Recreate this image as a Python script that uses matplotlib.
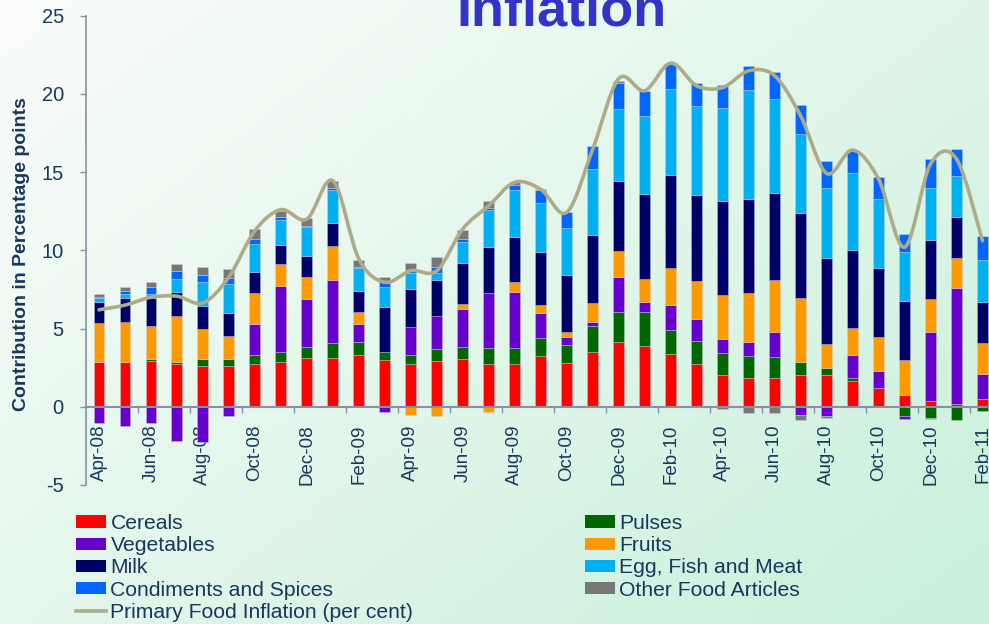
import numpy as np
import matplotlib
matplotlib.use("Agg")
import matplotlib.pyplot as plt
from matplotlib.path import Path
from matplotlib.patches import PathPatch, Patch
from matplotlib.lines import Line2D

plt.rcParams['font.family'] = ['Liberation Sans', 'DejaVu Sans']
plt.rcParams['axes.unicode_minus'] = False

months = ["Apr-08", "May-08", "Jun-08", "Jul-08", "Aug-08", "Sep-08", "Oct-08", "Nov-08",
          "Dec-08", "Jan-09", "Feb-09", "Mar-09", "Apr-09", "May-09", "Jun-09", "Jul-09",
          "Aug-09", "Sep-09", "Oct-09", "Nov-09", "Dec-09", "Jan-10", "Feb-10", "Mar-10",
          "Apr-10", "May-10", "Jun-10", "Jul-10", "Aug-10", "Sep-10", "Oct-10", "Nov-10",
          "Dec-10", "Jan-11", "Feb-11"]

cereals = [2.89, 2.89, 2.94, 2.72, 2.60, 2.60, 2.72, 2.85, 3.11, 3.15, 3.30, 3.02, 2.72, 2.92,
           3.07, 2.75, 2.75, 3.23, 2.81, 3.49, 4.13, 3.90, 3.36, 2.75, 2.06, 1.81, 1.87, 2.00,
           2.00, 1.62, 1.19, 0.77, 0.40, 0.19, 0.49]
pulses = [0.00, 0.00, 0.13, 0.17, 0.47, 0.47, 0.56, 0.64, 0.74, 0.92, 0.87, 0.47, 0.60, 0.78,
          0.78, 1.00, 1.00, 1.15, 1.17, 1.66, 1.92, 2.19, 1.58, 1.45, 1.41, 1.45, 1.34, 0.85,
          0.49, 0.21, 0.00, -0.62, -0.72, -0.83, -0.30]
vegetables = [-1.04, -1.24, -1.04, -2.19, -2.26, -0.62, 1.98, 4.22, 3.05, 4.06, 1.13, -0.34,
              1.77, 2.09, 2.41, 3.53, 3.57, 1.62, 0.51, 0.30, 2.27, 0.63, 1.57, 1.38, 0.89,
              0.87, 1.58, -0.51, -0.62, 1.49, 1.11, -0.15, 4.37, 7.41, 1.62]
fruits = [2.47, 2.52, 2.10, 2.94, 1.91, 1.44, 2.00, 1.42, 1.38, 2.13, 0.79, 0.00, -0.51, -0.60,
          0.32, -0.34, 0.64, 0.51, 0.28, 1.17, 1.62, 1.45, 2.35, 2.45, 2.81, 3.13, 3.34, 4.11,
          1.53, 1.70, 2.19, 2.23, 2.13, 1.89, 1.96]
milk = [1.33, 1.53, 1.77, 1.53, 1.49, 1.49, 1.38, 1.23, 1.38, 1.49, 1.34, 2.92, 2.45, 2.34,
        2.60, 2.92, 2.90, 3.39, 3.68, 4.36, 4.47, 5.43, 5.97, 5.53, 5.96, 6.02, 5.53, 5.41,
        5.49, 5.01, 4.39, 3.75, 3.78, 2.66, 2.66]
egg_fish_meat = [0.27, 0.28, 0.28, 0.81, 1.49, 1.85, 1.77, 1.60, 1.84, 2.11, 1.45, 1.27, 1.02,
                 0.43, 1.38, 2.38, 3.00, 3.13, 2.98, 4.22, 4.62, 4.96, 5.47, 5.64, 5.94, 6.96,
                 6.03, 5.06, 4.47, 4.89, 4.40, 3.17, 3.30, 2.62, 2.66]
condiments = [0.08, 0.21, 0.42, 0.54, 0.49, 0.39, 0.32, 0.15, 0.08, 0.12, 0.04, 0.39, 0.21, 0.36,
              0.17, 0.11, 0.32, 0.83, 1.00, 1.49, 1.67, 1.60, 1.60, 1.49, 1.49, 1.56, 1.68, 1.85,
              1.73, 1.49, 1.43, 1.13, 1.86, 1.70, 1.51]
other_food = [0.18, 0.25, 0.34, 0.40, 0.49, 0.57, 0.64, 0.43, 0.47, 0.43, 0.47, 0.25, 0.43, 0.64,
              0.57, 0.44, 0.17, 0.06, 0.00, 0.00, 0.10, 0.00, 0.00, 0.00, -0.15, -0.38, -0.38,
              -0.32, -0.10, 0.00, 0.00, 0.00, -0.08, 0.00, 0.00]
primary_food_inflation = [6.2, 6.5, 7.0, 7.07, 6.64, 8.3, 11.26, 12.6, 12.0, 14.45, 9.45, 7.96,
                          8.7, 8.7, 11.37, 12.86, 14.35, 13.9, 12.43, 16.47, 20.98, 20.2, 21.97,
                          20.52, 20.41, 21.48, 21.16, 18.6, 14.92, 16.41, 14.56, 10.2, 15.52,
                          15.84, 10.62]

series_names = ["Cereals", "Pulses", "Vegetables", "Fruits", "Milk", "Egg, Fish and Meat",
                "Condiments and Spices", "Other Food Articles"]
series_values = [cereals, pulses, vegetables, fruits, milk, egg_fish_meat, condiments, other_food]
series_colors = ["#FF0000", "#006600", "#6600CC", "#FF9900", "#000066", "#00B0F0",
                 "#0066FF", "#777777"]
line_name = "Primary Food Inflation (per cent)"
line_color = "#AEAB88"
text_color = "#17375E"
axis_color = "#8C8FA3"

W, H = 989, 624
fig = plt.figure(figsize=(W / 100, H / 100), dpi=100)

# background gradient
bg = fig.add_axes([0, 0, 1, 1], zorder=-10)
gx, gy = np.meshgrid(np.linspace(0, 1, 200), np.linspace(0, 1, 130))
t = (gx * 0.55 + gy * 0.45)
c0 = np.array([251, 253, 251]) / 255.0
c1 = np.array([200, 240, 218]) / 255.0
img = c0[None, None, :] * (1 - t[..., None]) + c1[None, None, :] * t[..., None]
bg.imshow(img, extent=[0, 1, 0, 1], aspect='auto', origin='upper')
bg.set_axis_off()

left = 86 / W
right_px = 995.5
top = 1 - 15.7 / H
bottom = 1 - 485 / H
ax = fig.add_axes([left, bottom, right_px / W - left, top - bottom])
ax.set_facecolor('none')

x = np.arange(len(months))
pos_base = np.zeros(len(months))
neg_base = np.zeros(len(months))
for vals, col in zip(series_values, series_colors):
    v = np.array(vals, dtype=float)
    b = np.where(v >= 0, pos_base, neg_base)
    ax.bar(x, v, width=0.42, bottom=b, color=col, edgecolor=(0.85, 0.85, 0.9, 0.6),
           linewidth=0.4, zorder=2)
    pos_base = pos_base + np.where(v > 0, v, 0)
    neg_base = neg_base + np.where(v < 0, v, 0)

# smoothed line (cubic Bezier, Excel-style smoothing)
py = np.array(primary_food_inflation, dtype=float)
verts = [(x[0], py[0])]
codes = [Path.MOVETO]
n = len(py)
for i in range(n - 1):
    p0 = np.array([x[max(i - 1, 0)], py[max(i - 1, 0)]])
    p1 = np.array([x[i], py[i]])
    p2 = np.array([x[i + 1], py[i + 1]])
    p3 = np.array([x[min(i + 2, n - 1)], py[min(i + 2, n - 1)]])
    c1p = p1 + (p2 - p0) / 6.0
    c2p = p2 - (p3 - p1) / 6.0
    verts += [tuple(c1p), tuple(c2p), tuple(p2)]
    codes += [Path.CURVE4] * 3
ax.add_patch(PathPatch(Path(verts, codes), facecolor='none', edgecolor=line_color,
                       linewidth=2.6, zorder=4, capstyle='round', joinstyle='round'))

ax.set_xlim(-0.5, len(months) - 0.5)
ax.set_ylim(-5, 25)
ax.set_yticks(np.arange(-5, 26, 5))
ax.spines['top'].set_visible(False)
ax.spines['right'].set_visible(False)
ax.spines['bottom'].set_position(('data', 0))
ax.spines['bottom'].set_color(axis_color)
ax.spines['left'].set_color(axis_color)
ax.spines['bottom'].set_linewidth(1.5)
ax.spines['left'].set_linewidth(1.2)
ax.spines['bottom'].set_zorder(3)

ax.set_xticks(x[::2])
ax.set_xticklabels(months[::2], rotation=90, fontsize=13.5, color=text_color)
ax.set_xticks(np.arange(1.5, len(months) - 1, 2), minor=True)
ax.tick_params(axis='x', which='major', length=0, pad=13)
ax.tick_params(axis='x', which='minor', length=4, width=1, color=axis_color, direction='out')
ax.tick_params(axis='y', length=4, width=1, color=axis_color, labelsize=14.5,
               labelcolor=text_color, pad=12)
for lab in ax.get_xticklabels():
    lab.set_va('top')

fig.text(22 / W, 1 - 254 / H, "Contribution in Percentage points", rotation=90,
         ha='center', va='center', fontsize=14, fontweight='bold', color=text_color)

fig.text(561 / W, 1 - 26 / H, "Inflation", ha='center', va='baseline', fontsize=39,
         fontweight='bold', color='#3333CC')

# legends
def patch(c):
    return Patch(facecolor=c, edgecolor='none')

left_handles = [patch(series_colors[0]), patch(series_colors[2]), patch(series_colors[4]),
                patch(series_colors[6]), Line2D([], [], color=line_color, linewidth=2.6)]
left_labels = [series_names[0], series_names[2], series_names[4], series_names[6], line_name]
right_handles = [patch(series_colors[1]), patch(series_colors[3]), patch(series_colors[5]),
                 patch(series_colors[7])]
right_labels = [series_names[1], series_names[3], series_names[5], series_names[7]]

leg_kw = dict(frameon=False, fontsize=15.2, handlelength=1.43, handleheight=0.5,
              handletextpad=0.2, labelspacing=0.15, borderpad=0, borderaxespad=0,
              labelcolor=text_color, loc='upper left')
fig.legend(left_handles, left_labels, bbox_to_anchor=(76 / W, 1 - 514 / H), **leg_kw)
fig.legend(right_handles, right_labels, bbox_to_anchor=(585 / W, 1 - 514 / H), **leg_kw)

fig.savefig("out.png", dpi=100)
